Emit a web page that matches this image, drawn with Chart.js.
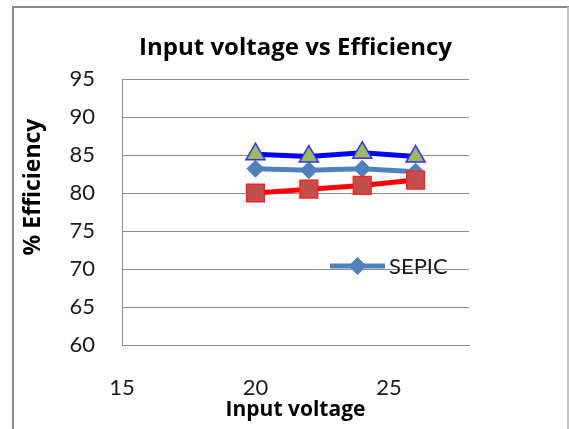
<!DOCTYPE html>
<html>
<head>
<meta charset="utf-8">
<script src="https://cdn.jsdelivr.net/npm/chart.js@4/dist/chart.umd.min.js"></script>
<style>
  html, body { margin: 0; padding: 0; background: #fff; }
  #wrap { width: 569px; height: 429px; position: relative; }
</style>
</head>
<body>
<div id="wrap"><canvas id="c" width="569" height="429"></canvas></div>
<script>
// Efficiency measurements at each input voltage
const voltages = [20, 22, 24, 26];
const sepicEff = [83.2, 83.0, 83.2, 82.8];
const upperEff = [85.1, 84.8, 85.3, 84.8];
const lowerEff = [80.0, 80.5, 81.0, 81.7];

// Axis tick values
const yTicks = [60, 65, 70, 75, 80, 85, 90, 95];
const xTicks = [15, 20, 25];

const FONT = 'Lato, "Open Sans", sans-serif';
const BOLD_FONT = '"Open Sans", Lato, sans-serif';
const Y_TITLE = '% Efficiency';

const toPoints = vals => vals.map((v, i) => ({ x: voltages[i], y: v }));

// Outer frame around the whole chart
const framePlugin = {
  id: 'frame',
  beforeDraw(chart) {
    const ctx = chart.ctx;
    ctx.save();
    ctx.fillStyle = '#fff';
    ctx.fillRect(0, 0, chart.width, chart.height);
    ctx.lineWidth = 2;
    ctx.strokeStyle = '#8a8a8a';
    ctx.beginPath();
    ctx.moveTo(13, 429);
    ctx.lineTo(13, 7);
    ctx.lineTo(569, 7);
    ctx.stroke();
    ctx.strokeStyle = '#c4c4c4';
    ctx.beginPath();
    ctx.moveTo(568, 7);
    ctx.lineTo(568, 429);
    ctx.stroke();
    ctx.restore();
  }
};

// Rotated value-axis title, sitting a little above the plot's middle
const yTitlePlugin = {
  id: 'yTitle',
  afterDraw(chart) {
    const a = chart.chartArea;
    const ctx = chart.ctx;
    ctx.save();
    ctx.translate(33, (a.top + a.bottom) / 2 - 25);
    ctx.rotate(-Math.PI / 2);
    ctx.fillStyle = '#000';
    ctx.font = 'bold 23px ' + BOLD_FONT;
    ctx.textAlign = 'center';
    ctx.textBaseline = 'middle';
    ctx.fillText(Y_TITLE, 0, 0);
    ctx.restore();
  }
};

// Single-entry legend drawn inside the plot area
const inlineLegend = {
  id: 'inlineLegend',
  afterDraw(chart) {
    const ds = chart.data.datasets[2];
    const a = chart.chartArea;
    const ctx = chart.ctx;
    const y = a.top + 187;
    const x0 = a.left + 208, x1 = a.left + 263;
    ctx.save();
    ctx.strokeStyle = ds.borderColor;
    ctx.lineWidth = ds.borderWidth;
    ctx.beginPath();
    ctx.moveTo(x0, y);
    ctx.lineTo(x1, y);
    ctx.stroke();
    ctx.fillStyle = ds.pointBackgroundColor;
    ctx.strokeStyle = ds.pointBorderColor;
    ctx.lineWidth = 1;
    Chart.helpers.drawPoint(ctx, { pointStyle: ds.pointStyle, radius: ds.pointRadius, rotation: 0, borderWidth: 1 }, (x0 + x1) / 2, y);
    ctx.fillStyle = '#1a1a1a';
    ctx.font = '22px ' + FONT;
    ctx.textAlign = 'left';
    ctx.textBaseline = 'middle';
    ctx.fillText(ds.label, x1 + 4, y + 1);
    ctx.restore();
  }
};

new Chart(document.getElementById('c'), {
  type: 'scatter',
  data: {
    datasets: [
      {
        label: 'Series 3',
        data: toPoints(upperEff),
        showLine: true,
        borderColor: '#0000ff',
        borderWidth: 5,
        pointStyle: 'triangle',
        pointRadius: 11,
        pointBackgroundColor: '#9bbb59',
        pointBorderColor: '#3030ff',
        pointBorderWidth: 1.5
      },
      {
        label: 'Series 2',
        data: toPoints(lowerEff),
        showLine: true,
        borderColor: '#ff0000',
        borderWidth: 5,
        pointStyle: 'rect',
        pointRadius: 12.5,
        pointBackgroundColor: '#c0504d',
        pointBorderColor: '#ff2020',
        pointBorderWidth: 1.5
      },
      {
        label: 'SEPIC',
        data: toPoints(sepicEff),
        showLine: true,
        borderColor: '#4f81bd',
        borderWidth: 5,
        pointStyle: 'rectRot',
        pointRadius: 8.5,
        pointBackgroundColor: '#4f81bd',
        pointBorderColor: '#4f81bd',
        pointBorderWidth: 1
      }
    ]
  },
  options: {
    responsive: false,
    animation: false,
    devicePixelRatio: 1,
    layout: { padding: { left: 14, right: 100, top: 10, bottom: 0 } },
    plugins: {
      legend: { display: false },
      tooltip: { enabled: false },
      title: {
        display: true,
        fullSize: false,
        text: 'Input voltage vs Efficiency',
        color: '#000',
        font: { family: BOLD_FONT, size: 24, weight: 'bold', lineHeight: 1.2 },
        padding: { top: 23.6, bottom: 16.6 }
      }
    },
    scales: {
      x: {
        type: 'linear',
        min: 15,
        max: 28,
        afterBuildTicks: s => { s.ticks = xTicks.map(v => ({ value: v })); },
        afterFit: s => { s.height = 84; },
        grid: { display: false, drawTicks: false },
        border: { display: true, color: '#8c8c8c', width: 1 },
        ticks: { color: '#1a1a1a', padding: 30, font: { family: FONT, size: 22, lineHeight: 1.2 } },
        title: {
          display: true,
          text: 'Input voltage',
          color: '#000',
          font: { family: BOLD_FONT, size: 21, weight: 'bold', lineHeight: 1.2 },
          padding: { top: 0, bottom: 6 }
        }
      },
      y: {
        min: 60,
        max: 95,
        afterBuildTicks: s => { s.ticks = yTicks.map(v => ({ value: v })); },
        afterFit: s => { s.width = 108; },
        grid: { color: '#8c8c8c', lineWidth: 1, drawTicks: false },
        border: { display: true, color: '#8c8c8c', width: 1 },
        ticks: { color: '#1a1a1a', padding: 27, font: { family: FONT, size: 22, lineHeight: 1.2 } },
        title: { display: false }
      }
    }
  },
  plugins: [framePlugin, yTitlePlugin, inlineLegend]
});
</script>
</body>
</html>
